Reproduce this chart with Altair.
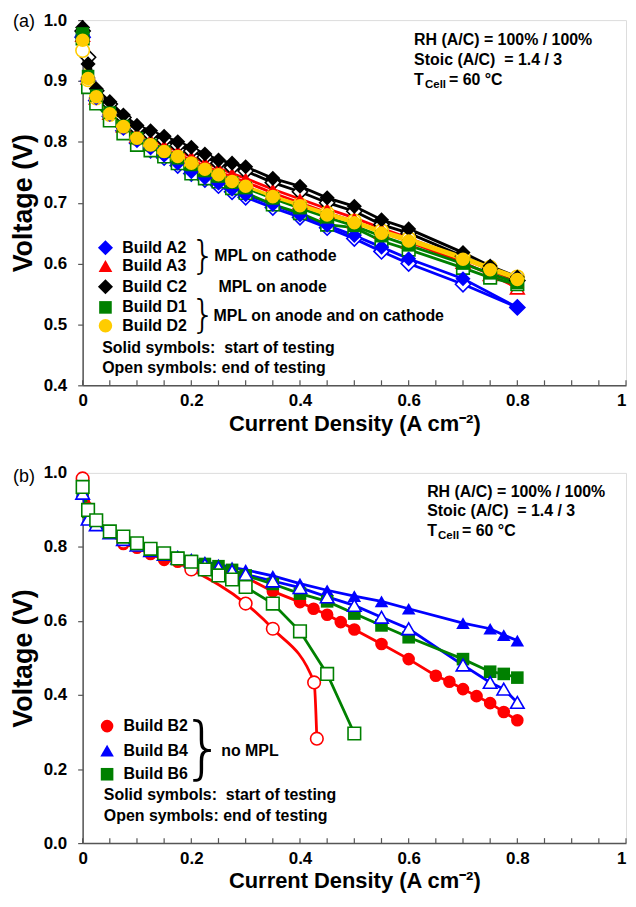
import altair as alt
import pandas as pd

# ---------------- Panel (a) data ----------------
xa = [0, 0.01, 0.025, 0.05, 0.075, 0.1, 0.125, 0.15, 0.175, 0.2, 0.225, 0.25,
      0.275, 0.3, 0.35, 0.4, 0.45, 0.5, 0.55, 0.6, 0.7, 0.75, 0.8]
xa_A2 = [0, 0.01, 0.025, 0.05, 0.075, 0.1, 0.125, 0.15, 0.175, 0.2, 0.225, 0.25,
         0.275, 0.3, 0.35, 0.4, 0.45, 0.5, 0.55, 0.6, 0.7, 0.8]

A2_start = [0.975, 0.905, 0.872, 0.845, 0.822, 0.802, 0.790, 0.778, 0.765, 0.751, 0.741, 0.732,
            0.722, 0.713, 0.697, 0.680, 0.663, 0.646, 0.627, 0.608, 0.575, 0.528]
A2_end = [0.972, 0.900, 0.868, 0.842, 0.818, 0.798, 0.786, 0.774, 0.761, 0.748, 0.738, 0.728,
          0.718, 0.709, 0.692, 0.676, 0.659, 0.641, 0.620, 0.600, 0.566, 0.528]
A3_start = [0.980, 0.912, 0.878, 0.853, 0.832, 0.815, 0.804, 0.794, 0.785, 0.776, 0.766, 0.757,
            0.748, 0.740, 0.722, 0.706, 0.690, 0.675, 0.658, 0.642, 0.608, 0.590, 0.570]
A3_end = [0.975, 0.905, 0.872, 0.847, 0.826, 0.809, 0.798, 0.788, 0.779, 0.770, 0.760, 0.751,
          0.742, 0.734, 0.716, 0.700, 0.684, 0.669, 0.652, 0.636, 0.602, 0.582, 0.560]
C2_start = [0.988, 0.928, 0.887, 0.866, 0.844, 0.827, 0.818, 0.809, 0.800, 0.791, 0.780, 0.770,
            0.765, 0.759, 0.740, 0.727, 0.708, 0.694, 0.672, 0.657, 0.618, 0.596, 0.578]
C2_end = [0.982, 0.939, 0.884, 0.862, 0.840, 0.822, 0.812, 0.803, 0.794, 0.785, 0.775, 0.765,
          0.758, 0.752, 0.733, 0.718, 0.700, 0.686, 0.664, 0.650, 0.612, 0.592, 0.572]
D1_start = [0.978, 0.908, 0.876, 0.848, 0.826, 0.806, 0.795, 0.784, 0.773, 0.762, 0.752, 0.743,
            0.733, 0.724, 0.707, 0.691, 0.676, 0.662, 0.645, 0.630, 0.600, 0.584, 0.568]
D1_end = [0.970, 0.890, 0.863, 0.835, 0.814, 0.795, 0.786, 0.776, 0.765, 0.748, 0.740, 0.735,
          0.724, 0.716, 0.697, 0.683, 0.664, 0.659, 0.637, 0.623, 0.593, 0.577, 0.566]
D2_start = [0.967, 0.904, 0.874, 0.846, 0.825, 0.806, 0.795, 0.784, 0.776, 0.765, 0.755, 0.746,
            0.735, 0.727, 0.710, 0.695, 0.680, 0.667, 0.650, 0.637, 0.607, 0.590, 0.574]
D2_end = [0.950, 0.902, 0.872, 0.845, 0.824, 0.805, 0.794, 0.783, 0.775, 0.764, 0.754, 0.745,
          0.735, 0.727, 0.711, 0.697, 0.683, 0.670, 0.654, 0.641, 0.611, 0.594, 0.578]

# ---------------- Panel (b) data ----------------
xb_B2 = [0, 0.01, 0.025, 0.05, 0.075, 0.1, 0.125, 0.15, 0.175, 0.2, 0.225, 0.25, 0.275, 0.3,
         0.35, 0.4, 0.425, 0.45, 0.475, 0.5, 0.55, 0.6, 0.65, 0.675, 0.7, 0.725, 0.75, 0.775, 0.8]
B2_start = [0.975, 0.905, 0.862, 0.840, 0.808, 0.798, 0.781, 0.765, 0.760, 0.752, 0.745, 0.737,
            0.728, 0.718, 0.680, 0.651, 0.633, 0.617, 0.597, 0.577, 0.538, 0.497, 0.452, 0.436,
            0.416, 0.397, 0.378, 0.354, 0.332]
xb_B2_end = [0, 0.025, 0.075, 0.125, 0.2, 0.3, 0.35, 0.426, 0.431]
B2_end = [0.985, 0.868, 0.814, 0.790, 0.739, 0.647, 0.579, 0.434, 0.282]

xb = [0, 0.01, 0.025, 0.05, 0.075, 0.1, 0.125, 0.15, 0.175, 0.2, 0.225, 0.25, 0.275, 0.3,
      0.35, 0.4, 0.45, 0.5, 0.55, 0.6, 0.7, 0.75, 0.775, 0.8]
B4_start = [0.950, 0.880, 0.862, 0.840, 0.823, 0.808, 0.794, 0.785, 0.776, 0.768, 0.760, 0.752,
            0.745, 0.738, 0.722, 0.701, 0.683, 0.667, 0.653, 0.633, 0.594, 0.579, 0.562, 0.547]
B4_end = [0.945, 0.875, 0.860, 0.838, 0.820, 0.805, 0.790, 0.780, 0.770, 0.762, 0.752, 0.744,
          0.735, 0.726, 0.708, 0.690, 0.665, 0.642, 0.610, 0.579, 0.481, 0.434, 0.416, 0.380]
B6_start = [0.955, 0.895, 0.866, 0.842, 0.826, 0.808, 0.795, 0.782, 0.770, 0.762, 0.754, 0.748,
            0.738, 0.723, 0.700, 0.674, 0.653, 0.620, 0.588, 0.556, 0.497, 0.463, 0.457, 0.447]
xb_B6_end = [0, 0.01, 0.025, 0.05, 0.075, 0.1, 0.125, 0.15, 0.175, 0.2, 0.225, 0.25, 0.275,
             0.3, 0.35, 0.4, 0.45, 0.5]
B6_end = [0.962, 0.900, 0.872, 0.842, 0.828, 0.810, 0.795, 0.783, 0.769, 0.760, 0.739, 0.723,
          0.712, 0.692, 0.647, 0.572, 0.457, 0.296]

# ---------------- Labels / annotation text ----------------
legend_a_names = ["Build A2", "Build A3", "Build C2", "Build D1", "Build D2"]
legend_a_y = [0.626, 0.596, 0.562, 0.528, 0.498]
groups_a = ["MPL on cathode", "MPL on anode", "MPL on anode and on cathode"]
groups_a_x = [0.242, 0.250, 0.241]
groups_a_y = [0.612, 0.562, 0.514]
legend_b_names = ["Build B2", "Build B4", "Build B6"]
legend_b_y = [0.316, 0.250, 0.186]
note_lines = ["Solid symbols:\u00a0 start of testing", "Open symbols: end of testing"]
cond_lines = ["RH (A/C) = 100% / 100%", "Stoic (A/C) \u00a0= 1.4 / 3"]
x_labels_at = [0, 0.2, 0.4, 0.6, 0.8, 1.0]
x_minor = [round(i * 0.05, 2) for i in range(21)]

FONT = "Liberation Sans"
W, HA, HB = 546, 367, 372
GRAY = "#555555"
TXT = 16


def df(xs, ys):
    return pd.DataFrame({"x": xs, "y": ys})


def build_panel(series, ydom, yvals, label_step, H, solid_on_top, extra):
    xenc = alt.X("x:Q", scale=alt.Scale(domain=[0, 1], nice=False),
                 axis=alt.Axis(values=x_labels_at, ticks=False, tickSize=0, grid=False,
                               labelExpr="datum.value == 0 ? '0' : datum.value == 1 ? '1' : format(datum.value, '.1f')",
                               labelAlign={"condition": {"test": "datum.value == 1", "value": "right"},
                                           "value": "center"},
                               labelFontSize=17, labelFontWeight="bold", labelPadding=7,
                               labelFont=FONT, labelColor="black", labelOverlap=False, labelFlush=False,
                               title="Current Density (A cm⁻²)", titleFontSize=22,
                               titleFontWeight="bold", titleFont=FONT, titlePadding=5,
                               titleColor="black", domainColor=GRAY, domainWidth=1.5))
    yenc = alt.Y("y:Q", scale=alt.Scale(domain=ydom, nice=False, zero=False),
                 axis=alt.Axis(values=yvals, tickSize=5, tickColor=GRAY, tickWidth=1.2, grid=False,
                               labelExpr="abs(round(datum.value*100) %% %d) == 0 ? format(datum.value, '.1f') : ''" % label_step,
                               labelFontSize=17, labelFontWeight="bold", labelPadding=11,
                               labelFont=FONT, labelColor="black", labelOverlap=False, labelFlush=False,
                               title="Voltage (V)", titleFontSize=27, titleFontWeight="bold",
                               titleFont=FONT, titlePadding=6, titleColor="black",
                               domainColor=GRAY, domainWidth=1.5))
    layers = []
    layers.append(alt.Chart(pd.DataFrame({"t": x_minor})).mark_rule(color=GRAY, strokeWidth=1.2).encode(
        x="t:Q", y=alt.value(H), y2=alt.value(H - 5)))
    for s in series:
        for key in ("end", "start"):
            xs, ys = s[key]
            layers.append(alt.Chart(df(xs, ys)).mark_line(
                color=s["color"], strokeWidth=2.8, interpolate=s.get("interp_" + key, "linear")
            ).encode(x=xenc, y=yenc))
    pts_open = []
    pts_solid = []
    for s in series:
        xs, ys = s["end"]
        pts_open.append(alt.Chart(df(xs, ys)).mark_point(
            shape=s["shape"], size=s["size"], filled=False, fill="white", fillOpacity=1,
            stroke=s["color"], strokeWidth=1.6, opacity=1).encode(x=xenc, y=yenc))
        xs, ys = s["start"]
        pts_solid.append(alt.Chart(df(xs, ys)).mark_point(
            shape=s["shape"], size=s["size"], filled=True, color=s["color"], opacity=1
        ).encode(x=xenc, y=yenc))
    layers += (pts_open + pts_solid) if solid_on_top else (pts_solid + pts_open)
    layers += extra
    return alt.layer(*layers).properties(width=W, height=H)


def text_layer(texts, xs, ys, size=TXT, weight="bold", align="left", dx=0, dy=0, font=FONT, color="black"):
    return alt.Chart(pd.DataFrame({"x": xs, "y": ys, "txt": texts})).mark_text(
        align=align, baseline="middle", fontSize=size, fontWeight=weight, font=font,
        dx=dx, dy=dy, color=color).encode(x="x:Q", y="y:Q", text="txt:N")


series_a = [
    dict(name="A2", color="#0000FF", shape="diamond", size=230, start=(xa_A2, A2_start), end=(xa_A2, A2_end)),
    dict(name="A3", color="#FF0000", shape="triangle-up", size=190, start=(xa, A3_start), end=(xa, A3_end)),
    dict(name="C2", color="#000000", shape="diamond", size=230, start=(xa, C2_start), end=(xa, C2_end)),
    dict(name="D1", color="#008000", shape="square", size=160, start=(xa, D1_start), end=(xa, D1_end)),
    dict(name="D2", color="#FFCC00", shape="circle", size=185, start=(xa, D2_start), end=(xa, D2_end)),
]
series_b = [
    dict(name="B2", color="#FF0000", shape="circle", size=160, start=(xb_B2, B2_start),
         end=(xb_B2_end, B2_end), interp_end="monotone"),
    dict(name="B4", color="#0000FF", shape="triangle-up", size=185, start=(xb, B4_start), end=(xb, B4_end)),
    dict(name="B6", color="#008000", shape="square", size=160, start=(xb, B6_start), end=(xb_B6_end, B6_end)),
]


def legend_points(series, ys, xpos):
    out = []
    for s, yv in zip(series, ys):
        out.append(alt.Chart(df([xpos], [yv])).mark_point(
            shape=s["shape"], size=s["size"], filled=True, color=s["color"], opacity=1
        ).encode(x="x:Q", y="y:Q"))
    return out


def cond_block(x0, ys):
    return [
        text_layer(cond_lines, [x0, x0], ys[:2]),
        text_layer(["T"], [x0], [ys[2]]),
        text_layer(["Cell"], [x0], [ys[2]], size=11.5, dx=11, dy=5),
        text_layer(["= 60 °C"], [x0], [ys[2]], dx=35),
    ]


extra_a = (legend_points(series_a, legend_a_y, 0.042) + [
    text_layer(legend_a_names, [0.073] * 5, legend_a_y),
    text_layer(groups_a, groups_a_x, groups_a_y),
    text_layer(["}", "}"], [0.222, 0.222], [0.611, 0.513], size=40, weight=200, font="DejaVu Sans", align="center"),
    text_layer(note_lines, [0.036, 0.036], [0.461, 0.429]),
    text_layer(["(a)"], [-0.128], [0.996], size=18, weight="normal"),
] + cond_block(0.610, [0.967, 0.935, 0.902]))

extra_b = (legend_points(series_b, legend_b_y, 0.045) + [
    text_layer(legend_b_names, [0.075] * 3, legend_b_y),
    text_layer(["no MPL"], [0.255], [0.248]),
    text_layer(["}"], [0.222], [0.249], size=68, weight=200, font="DejaVu Sans", align="center"),
    text_layer(note_lines, [0.039, 0.039], [0.130, 0.073]),
    text_layer(["(b)"], [-0.128], [0.99], size=18, weight="normal"),
] + cond_block(0.634, [0.948, 0.896, 0.842]))

yvals_a = [round(0.4 + i * 0.05, 2) for i in range(13)]
yvals_b = [round(i * 0.05, 2) for i in range(21)]

panel_a = build_panel(series_a, [0.4, 1.0], yvals_a, 10, HA, True, extra_a)
panel_b = build_panel(series_b, [0.0, 1.0], yvals_b, 20, HB, False, extra_b)

chart = alt.vconcat(panel_a, panel_b, spacing=28).properties(
    padding={"left": 0, "top": 0, "right": 0, "bottom": 0}
).configure_view(stroke=GRAY, strokeWidth=1.5).configure(font=FONT)

chart.save("out.html", embed_options={"renderer": "svg", "actions": False})
